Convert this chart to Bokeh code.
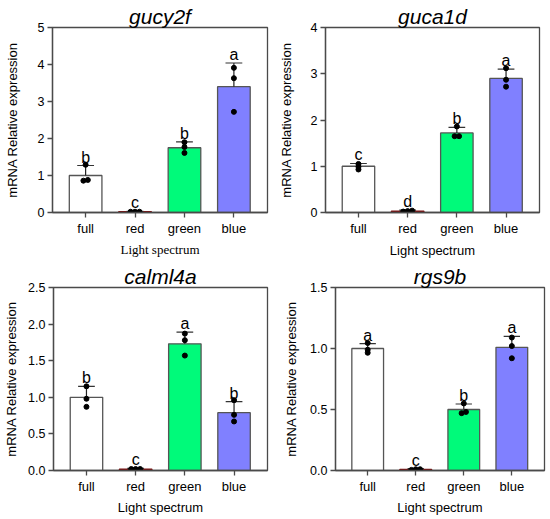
from bokeh.plotting import figure
from bokeh.models import Range1d, FixedTicker, ColumnDataSource
from bokeh.layouts import column, row
from bokeh.core.properties import value
from bokeh.embed import file_html
from bokeh.resources import INLINE

categories = ["full", "red", "green", "blue"]
bar_colors = ["#ffffff", "#e00000", "#00fa7a", "#8080ff"]
bar_line_colors = ["#555555", "#7a1010", "#555555", "#555555"]

# gucy2f
g1_means = [1.00, 0.02, 1.75, 3.40]
g1_upper = [1.27, 0.03, 1.91, 4.04]
g1_points = [[0.86, 0.88, 1.29], [0.02, 0.02, 0.02], [1.61, 1.77, 1.90], [2.72, 3.63, 3.91]]
g1_letters = ["b", "c", "b", "a"]
g1_ticks = [0, 1, 2, 3, 4, 5]
g1_tick_labels = ["0", "1", "2", "3", "4", "5"]

# guca1d
g2_means = [1.00, 0.03, 1.72, 2.90]
g2_upper = [1.06, 0.05, 1.84, 3.10]
g2_points = [[0.93, 0.99, 1.05], [0.02, 0.03, 0.04], [1.65, 1.65, 1.86], [2.72, 2.87, 3.12]]
g2_letters = ["c", "d", "b", "a"]
g2_ticks = [0, 1, 2, 3, 4]
g2_tick_labels = ["0", "1", "2", "3", "4"]

# calml4a
g3_means = [1.00, 0.02, 1.73, 0.79]
g3_upper = [1.15, 0.03, 1.89, 0.94]
g3_points = [[0.87, 0.98, 1.15], [0.02, 0.02, 0.02], [1.57, 1.78, 1.87], [0.67, 0.76, 0.96]]
g3_letters = ["b", "c", "a", "b"]
g3_ticks = [0, 0.5, 1.0, 1.5, 2.0, 2.5]
g3_tick_labels = ["0.0", "0.5", "1.0", "1.5", "2.0", "2.5"]

# rgs9b
g4_means = [1.00, 0.01, 0.50, 1.01]
g4_upper = [1.04, 0.015, 0.545, 1.10]
g4_points = [[0.965, 0.99, 1.045], [0.005, 0.01, 0.01], [0.47, 0.48, 0.55], [0.92, 1.02, 1.09]]
g4_letters = ["a", "c", "b", "a"]
g4_ticks = [0, 0.5, 1.0, 1.5]
g4_tick_labels = ["0.0", "0.5", "1.0", "1.5"]

FONT = "Liberation Sans"
AX = "#4a4a4a"


def spread(vals, yspan):
    thr = 0.012 * yspan
    order = sorted(range(len(vals)), key=lambda i: vals[i])
    clusters = []
    for i in order:
        if clusters and vals[i] - vals[clusters[-1][-1]] < thr:
            clusters[-1].append(i)
        else:
            clusters.append([i])
    offs = [0.0] * len(vals)
    for c in clusters:
        n = len(c)
        for k, i in enumerate(c):
            offs[i] = (k - (n - 1) / 2) * 0.09
    return offs


def panel(title, means, upper, points, letters, ticks, tick_labels,
          width, height, bl, br, bt, bb, ylab_standoff, xlab_standoff, xlab_font, title_shift):
    ymax = ticks[-1]
    p = figure(width=width, height=height, output_backend="svg", toolbar_location=None,
               x_range=Range1d(-0.67, 3.68), y_range=Range1d(0, ymax),
               min_border_left=bl, min_border_right=br, min_border_top=bt, min_border_bottom=bb)
    p.title.text = title
    p.title.text_font = FONT
    p.title.text_font_style = "italic"
    p.title.text_font_size = "21px"
    p.title.text_color = "black"
    p.title.align = "center"
    p.title.standoff = 0
    p.title.offset = title_shift
    p.xgrid.visible = False
    p.ygrid.visible = False
    p.outline_line_color = AX
    p.outline_line_width = 1.3
    p.outline_line_alpha = 1

    xs = list(range(len(categories)))
    src = ColumnDataSource(dict(x=xs, top=means, fc=bar_colors, lc=bar_line_colors, up=upper))
    p.vbar(x="x", top="top", bottom=0, width=0.66, source=src, fill_color="fc",
           line_color="lc", line_width=1.3)
    p.segment(x0="x", y0="top", x1="x", y1="up", source=src, line_color="#222222", line_width=1.2)
    cw = 0.17
    p.segment(x0=[x - cw for x in xs], y0=upper, x1=[x + cw for x in xs], y1=upper,
              line_color="#333333", line_width=1.2)
    px, py = [], []
    for i, vals in enumerate(points):
        offs = spread(vals, ymax)
        for v, o in zip(vals, offs):
            px.append(xs[i] + o)
            py.append(v)
    p.scatter(px, py, size=5, fill_color="black", line_color="black")
    p.text(x=xs, y=upper, text=letters, text_font=value(FONT), text_font_size="16px",
           text_align="center", text_baseline="bottom", y_offset=0,
           text_color="#000000")

    p.xaxis.ticker = FixedTicker(ticks=xs)
    p.xaxis.major_label_overrides = {x: c for x, c in zip(xs, categories)}
    p.yaxis.ticker = FixedTicker(ticks=ticks)
    p.yaxis.major_label_overrides = {t: l for t, l in zip(ticks, tick_labels)}
    for ax in (p.xaxis[0], p.yaxis[0]):
        ax.axis_line_color = AX
        ax.axis_line_width = 1.3
        ax.major_tick_line_color = AX
        ax.major_tick_line_width = 1.3
        ax.major_tick_in = 0
        ax.major_tick_out = 5
        ax.minor_tick_line_color = None
        ax.major_label_text_color = "black"
        ax.major_label_text_font = FONT
        ax.axis_label_text_color = "black"
        ax.axis_label_text_font_style = "normal"
        ax.axis_label_text_font_size = "13px"
    p.xaxis.major_label_text_font_size = "13px"
    p.yaxis.major_label_text_font_size = "12.5px"
    p.xaxis.major_label_standoff = 3
    p.yaxis.major_label_standoff = 3
    p.xaxis.axis_label = "Light spectrum"
    p.xaxis.axis_label_text_font = xlab_font
    p.xaxis.axis_label_standoff = xlab_standoff
    p.yaxis.axis_label = "mRNA Relative expression"
    p.yaxis.axis_label_text_font = FONT
    p.yaxis.axis_label_standoff = ylab_standoff
    return p


f1 = panel("gucy2f", g1_means, g1_upper, g1_points, g1_letters, g1_ticks, g1_tick_labels,
           275, 260, 52, 8, 27, 47, 15, 3, "Liberation Serif", -5)
f2 = panel("guca1d", g2_means, g2_upper, g2_points, g2_letters, g2_ticks, g2_tick_labels,
           275, 260, 50, 11, 27, 47, 14, 4, FONT, 8)
f3 = panel("calml4a", g3_means, g3_upper, g3_points, g3_letters, g3_ticks, g3_tick_labels,
           281, 258, 53, 14, 27, 46, 6, 3, FONT, 6)
f4 = panel("rgs9b", g4_means, g4_upper, g4_points, g4_letters, g4_ticks, g4_tick_labels,
           269, 258, 50, 6, 25, 48, 8, 3, FONT, -3)

layout = column(row(f1, f2), row(f3, f4))
open("out.html", "w").write(file_html(layout, INLINE))
